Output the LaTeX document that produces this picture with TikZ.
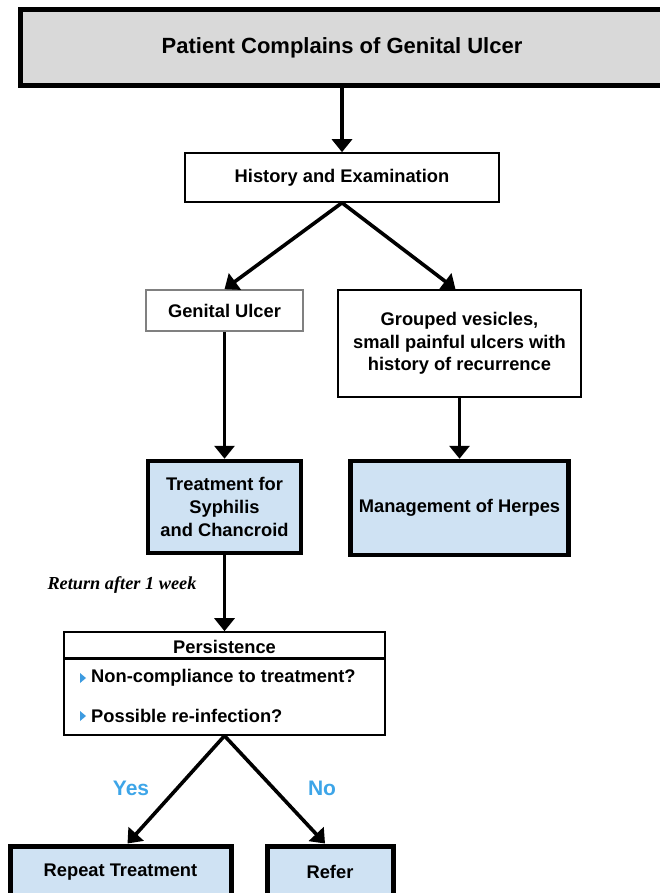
\documentclass[tikz,border=0pt]{standalone}
\usepackage{fontspec}
\setmainfont{Liberation Sans}
\newfontfamily\notefont{Liberation Serif}
\usetikzlibrary{arrows.meta}

\definecolor{titlegray}{HTML}{D9D9D9}
\definecolor{actionblue}{HTML}{CFE2F3}
\definecolor{answerblue}{HTML}{3DA5E8}
\definecolor{bulletblue}{HTML}{3D9BE0}
\definecolor{edgegray}{HTML}{808080}

\tikzset{
  titlebox/.style={draw, line width=5pt, fill=titlegray, minimum width=644pt, minimum height=76pt,
    font=\fontsize{22}{26}\selectfont\bfseries},
  plainbox/.style={draw, line width=1.6pt, fill=white, align=center, inner sep=0pt,
    font=\fontsize{18.3}{22.5}\selectfont\bfseries},
  actionbox/.style={draw, line width=4.5pt, fill=actionblue, align=center, inner sep=0pt,
    font=\fontsize{18.3}{23}\selectfont\bfseries},
  itemtext/.style={anchor=west, inner sep=0pt, font=\fontsize{18.3}{22}\selectfont\bfseries},
  answer/.style={text=answerblue, font=\fontsize{21}{24}\selectfont\bfseries},
  flow/.style={-{Triangle[width=20pt,length=13pt]}, line width=3.6pt}
}

\begin{document}
\begin{tikzpicture}[x=1pt,y=-1pt]
  \useasboundingbox (0,0) rectangle (659,893);

  % boxes
  \node[titlebox] (complaint) at (342,48) {Patient Complains of Genital Ulcer};
  \node[plainbox, minimum width=314pt, minimum height=49pt] (history) at (342,177.5) {History and Examination};
  \node[plainbox, draw=edgegray, minimum width=157pt, minimum height=41pt] (ulcer) at (224.5,310.5) {Genital Ulcer};
  \node[plainbox, minimum width=243pt, minimum height=107pt] (vesicles) at (459.5,343.5)
    {Grouped vesicles,\\small painful ulcers with\\history of recurrence};
  \node[actionbox, minimum width=153pt, minimum height=92pt] (treatment) at (224.5,507)
    {Treatment for\\Syphilis\\and Chancroid};
  \node[actionbox, minimum width=218pt, minimum height=94pt] (herpes) at (459.5,508) {Management of Herpes};

  % persistence box with title row
  \node[plainbox, minimum width=321pt, minimum height=103pt] (persist) at (224.5,683.5) {};
  \node[plainbox, draw=none, fill=none] (persisttitle) at (224.5,647) {Persistence};
  \draw[line width=3pt] ([yshift=-27pt]persist.north west) -- ([yshift=-27pt]persist.north east);
  \node[itemtext] (compliance) at (91,678) {Non-compliance to treatment?};
  \node[itemtext] (reinfection) at (91,716) {Possible re-infection?};
  \fill[bulletblue] ([xshift=-11pt]compliance.west) ++(0,-5) -- ++(0,10) -- ++(6,-5) -- cycle;
  \fill[bulletblue] ([xshift=-11pt]reinfection.west) ++(0,-5) -- ++(0,10) -- ++(6,-5) -- cycle;

  \node[actionbox, line width=5pt, minimum width=221pt, minimum height=52pt] (repeat) at (120.5,872) {Repeat Treatment};
  \node[actionbox, line width=5pt, minimum width=126pt, minimum height=52pt] (refer) at (330,872) {Refer};

  % labels
  \node[font=\fontsize{18.3}{22}\selectfont\notefont\bfseries\itshape] (returnnote) at (122,585) {Return after 1 week};
  \node[answer] (yes) at (131,788) {Yes};
  \node[answer] (no) at (322,788) {No};

  % connectors
  \draw[flow] (complaint) -- (history);
  \draw[flow] (history.south) -- (ulcer.north);
  \draw[flow] (history.south) -- ([xshift=-4pt]vesicles.north);
  \draw[flow] (ulcer) -- (treatment);
  \draw[flow] (vesicles) -- (herpes);
  \draw[flow] (treatment) -- (persist);
  \draw[flow] (persist.south) -- ([xshift=7pt]repeat.north);
  \draw[flow] (persist.south) -- ([xshift=-5pt]refer.north);
\end{tikzpicture}
\end{document}
